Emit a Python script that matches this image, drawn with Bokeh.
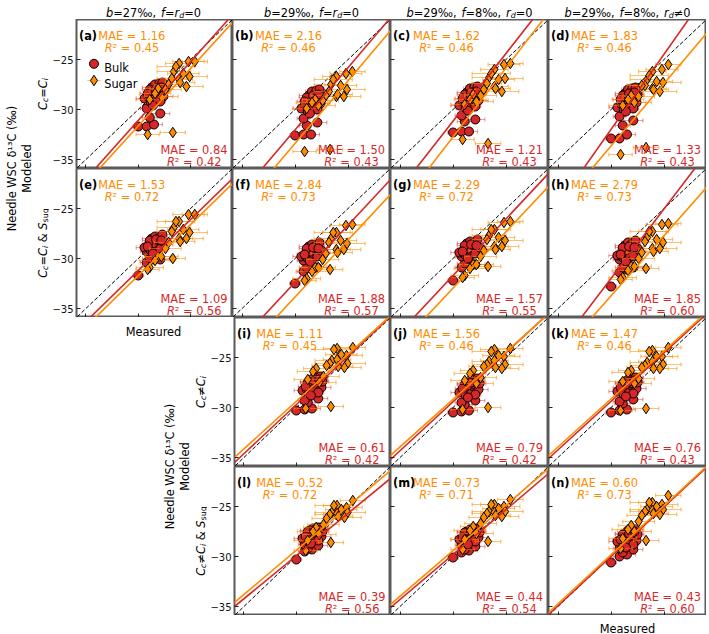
import numpy as np
from bokeh.plotting import figure
from bokeh.layouts import row, column
from bokeh.models import Range1d, FixedTicker, CustomJSTickFormatter, ColumnDataSource, CustomLabelingPolicy
from bokeh.core.properties import value
from bokeh.embed import file_html
from bokeh.resources import INLINE

# ---------------- data ----------------
panel_letters = ["a", "b", "c", "d", "e", "f", "g", "h", "i", "j", "k", "l", "m", "n"]
axis_ticks = [-35, -30, -25]

bulk_measured = [-30.0, -29.2, -28.5, -28.9, -29.2, -27.9, -29.4, -29.0, -28.8, -28.5, -28.3, -28.1, -28.7,
                 -28.4, -28.0, -27.7, -28.2, -27.6, -27.9, -28.6, -28.9, -27.5, -28.3, -29.1, -27.8, -28.6]
bulk_err = [0.5, 0.6, 0.8, 0.7, 0.6, 0.9, 0.8, 0.7, 0.9, 0.6, 0.8, 0.7, 0.9,
            0.6, 0.8, 0.7, 0.6, 0.9, 0.5, 0.8, 0.7, 0.6, 0.9, 0.7, 0.8, 0.6]
sugar_measured = [-26.1, -25.2, -24.6, -26.6, -26.4, -26.8, -25.7, -25.1, -26.1, -25.4,
                  -27.1, -28.1, -28.4, -28.9, -27.8, -29.1, -26.7, -27.4, -26.0]
sugar_err = [1.3, 1.5, 1.2, 1.6, 1.8, 1.4, 1.5, 1.7, 1.3, 1.6, 1.4, 1.2, 1.5, 1.3, 1.6, 1.1, 1.2, 1.5, 1.4]

bulk_a = [-31.7, -31.7, -31.5, -30.8, -29.9, -30.4, -28.9, -28.8, -29.3, -28.5, -29.0, -28.3, -27.8,
          -27.5, -27.4, -27.3, -28.0, -28.7, -29.2, -28.2, -28.0, -28.0, -27.9, -28.4, -27.8, -29.6]
bulk_b = [-32.6, -32.5, -32.5, -31.6, -30.9, -31.3, -29.9, -29.6, -30.2, -29.3, -29.8, -29.0, -28.6,
          -28.2, -28.1, -28.0, -28.7, -29.4, -30.0, -29.0, -28.8, -28.7, -28.6, -29.2, -28.5, -30.4]
bulk_c = [-32.3, -32.2, -32.2, -31.2, -30.6, -31.0, -29.6, -29.3, -29.9, -29.0, -29.5, -28.7, -28.3,
          -27.9, -27.8, -27.7, -28.4, -29.1, -29.7, -28.7, -28.5, -28.4, -28.3, -28.9, -28.2, -30.1]
bulk_d = [-32.9, -32.9, -32.5, -31.6, -30.7, -31.1, -29.8, -29.5, -30.0, -29.2, -29.7, -28.9, -28.4,
          -28.0, -27.9, -27.8, -28.6, -29.3, -29.9, -28.9, -28.6, -28.5, -28.4, -29.0, -28.3, -30.2]
bulk_e = [-31.7, -30.4, -30.1, -30.0, -29.3, -30.1, -28.9, -29.0, -29.2, -28.7, -29.1, -28.4, -28.0,
          -27.8, -27.9, -27.6, -28.3, -28.6, -29.0, -28.5, -28.2, -28.4, -28.1, -28.8, -28.2, -29.5]
bulk_f = [-32.5, -31.3, -31.0, -30.9, -30.2, -30.9, -29.8, -29.8, -30.0, -29.5, -29.9, -29.2, -28.8,
          -28.6, -28.7, -28.4, -29.1, -29.4, -29.8, -29.3, -29.0, -29.2, -28.9, -29.6, -29.0, -30.3]
bulk_g = [-32.2, -30.9, -30.6, -30.5, -29.8, -30.6, -29.4, -29.5, -29.7, -29.2, -29.6, -28.9, -28.5,
          -28.3, -28.4, -28.1, -28.8, -29.1, -29.5, -29.0, -28.7, -28.9, -28.6, -29.3, -28.7, -30.0]
bulk_h = [-32.8, -31.4, -31.1, -30.9, -30.1, -30.9, -29.7, -29.8, -30.0, -29.4, -29.9, -29.1, -28.7,
          -28.4, -28.5, -28.2, -29.0, -29.3, -29.8, -29.2, -28.9, -29.0, -28.8, -29.6, -28.9, -30.3]
bulk_i = [-30.3, -30.2, -30.1, -29.5, -29.3, -29.1, -28.3, -28.2, -28.6, -27.9, -28.4, -27.7, -27.4,
          -27.1, -27.0, -26.9, -27.5, -28.0, -28.5, -27.6, -27.5, -27.4, -27.3, -27.9, -27.2, -28.8]
bulk_j = [-30.5, -30.4, -30.3, -29.7, -29.5, -29.3, -28.5, -28.4, -28.8, -28.1, -28.6, -27.9, -27.6,
          -27.3, -27.2, -27.1, -27.7, -28.2, -28.7, -27.8, -27.7, -27.6, -27.5, -28.1, -27.4, -29.0]
bulk_k = [-30.5, -30.3, -30.2, -29.6, -29.4, -29.2, -28.4, -28.3, -28.7, -28.0, -28.5, -27.8, -27.5,
          -27.2, -27.1, -27.0, -27.6, -28.1, -28.6, -27.7, -27.6, -27.5, -27.4, -28.0, -27.3, -28.9]
bulk_l = [-30.3, -29.5, -29.3, -29.2, -28.8, -28.9, -28.2, -28.1, -28.5, -27.9, -28.3, -27.7, -27.4,
          -27.2, -27.1, -27.1, -27.6, -28.0, -28.4, -27.7, -27.5, -27.5, -27.4, -28.0, -27.3, -28.7]
bulk_m = [-30.1, -29.6, -29.4, -29.3, -28.9, -29.0, -28.3, -28.2, -28.6, -28.0, -28.4, -27.8, -27.5,
          -27.3, -27.2, -27.2, -27.7, -28.1, -28.5, -27.8, -27.6, -27.6, -27.5, -28.1, -27.4, -28.8]
bulk_n = [-30.6, -30.0, -29.8, -29.6, -29.2, -29.3, -28.5, -28.4, -28.8, -28.2, -28.7, -28.0, -27.7,
          -27.4, -27.3, -27.3, -27.9, -28.4, -28.8, -28.0, -27.8, -27.8, -27.7, -28.3, -27.5, -29.1]

sugar_a = [-25.4, -25.2, -25.2, -26.2, -25.7, -26.9, -26.4, -26.7, -27.0, -27.7, -27.5, -27.9, -28.4,
           -29.0, -28.7, -32.5, -32.3, -28.0, -27.3]
sugar_b = [-26.7, -26.4, -26.2, -27.5, -27.0, -28.2, -27.6, -28.0, -28.7, -28.7, -28.6, -29.0, -29.3,
           -29.9, -29.6, -34.2, -34.0, -29.1, -28.5]
sugar_c = [-26.0, -25.5, -25.4, -26.8, -26.4, -27.4, -27.0, -26.9, -27.7, -28.2, -28.0, -28.5, -29.0,
           -29.5, -29.2, -33.0, -33.4, -28.6, -27.9]
sugar_d = [-26.2, -26.0, -25.5, -27.0, -26.6, -27.6, -27.2, -27.3, -27.9, -28.2, -27.6, -28.6, -29.0,
           -29.6, -29.3, -34.5, -33.8, -28.7, -28.0]
sugar_e = [-26.3, -25.6, -25.6, -26.9, -26.3, -27.3, -27.1, -27.4, -28.0, -28.0, -28.4, -29.8, -30.2,
           -30.9, -29.8, -31.1, -30.0, -29.0, -28.3]
sugar_f = [-27.4, -26.7, -26.6, -28.0, -27.4, -28.4, -28.2, -28.5, -29.1, -29.1, -29.5, -30.9, -31.3,
           -32.0, -30.9, -32.2, -31.1, -30.1, -29.4]
sugar_g = [-27.1, -26.4, -26.3, -27.7, -27.1, -28.1, -27.9, -28.2, -28.8, -28.8, -29.2, -30.6, -31.0,
           -31.7, -30.6, -31.9, -30.8, -29.8, -29.1]
sugar_h = [-27.3, -26.6, -26.5, -27.9, -27.3, -28.3, -28.1, -28.4, -29.0, -29.0, -29.4, -30.8, -31.2,
           -31.9, -30.8, -32.1, -31.0, -30.0, -29.3]
sugar_i = [-24.1, -24.8, -24.0, -25.3, -24.2, -25.6, -24.7, -25.6, -25.2, -26.0, -25.8, -26.1, -26.4,
           -27.2, -27.5, -30.1, -29.9, -26.9, -25.9]
sugar_j = [-24.2, -24.9, -24.1, -25.4, -24.4, -25.7, -24.8, -25.7, -25.3, -26.1, -25.9, -26.3, -26.6,
           -27.3, -27.6, -30.2, -30.0, -27.0, -26.0]
sugar_k = [-24.3, -24.9, -24.0, -25.5, -24.4, -25.8, -24.9, -25.7, -25.4, -26.1, -26.0, -26.3, -26.5,
           -27.4, -27.6, -30.3, -30.1, -27.1, -26.1]
sugar_l = [-24.9, -25.1, -24.4, -25.6, -24.9, -25.8, -25.3, -25.6, -25.7, -26.1, -26.2, -27.1, -27.5,
           -28.4, -27.8, -29.4, -28.6, -26.8, -26.0]
sugar_m = [-24.8, -25.0, -24.3, -25.5, -24.8, -25.7, -25.2, -25.5, -25.6, -26.0, -26.1, -27.0, -27.4,
           -28.3, -27.7, -29.3, -28.5, -26.7, -25.9]
sugar_n = [-24.6, -24.8, -23.9, -25.3, -24.6, -25.5, -25.0, -25.3, -25.4, -25.8, -25.9, -26.9, -27.3,
           -28.2, -27.5, -29.2, -28.4, -26.5, -25.7]

# regression lines (slope, intercept)
fit_bulk_slope = [1.173, 1.246, 1.355, 1.505, 1.022, 1.140, 1.134, 1.393, 0.980, 0.980, 0.970, 0.859, 0.899, 0.987]
fit_bulk_icpt = [4.10, 5.34, 9.49, 13.16, -0.54, 1.83, 2.32, 9.79, -0.32, -0.02, -0.28, -4.16, -2.83, -0.37]
fit_sugar_slope = [1.150, 1.252, 1.380, 1.250, 1.023, 1.139, 1.129, 1.204, 0.952, 0.950, 0.960, 0.886, 0.913, 0.980]
fit_sugar_icpt = [2.86, 4.17, 8.67, 3.85, -1.02, 0.32, 0.91, 2.39, -0.82, -0.69, -0.34, -2.79, -2.02, -0.42]

mae_sugar = [1.16, 2.16, 1.62, 1.83, 1.53, 2.84, 2.29, 2.79, 1.11, 1.56, 1.47, 0.52, 0.73, 0.60]
r2_sugar = [0.45, 0.46, 0.46, 0.46, 0.72, 0.73, 0.72, 0.73, 0.45, 0.46, 0.46, 0.72, 0.71, 0.73]
mae_bulk = [0.84, 1.50, 1.21, 1.33, 1.09, 1.88, 1.57, 1.85, 0.61, 0.79, 0.76, 0.39, 0.44, 0.43]
r2_bulk = [0.42, 0.43, 0.43, 0.43, 0.56, 0.57, 0.55, 0.60, 0.42, 0.42, 0.43, 0.56, 0.54, 0.60]

IT, NO = "italic", "normal"
NB = "\u00a0"
col_titles = [
    [("b", IT, False), ("=27\u2030,", NO, False), (NB, NO, False), ("f", IT, False), ("=", NO, False), ("r", IT, False), ("d", IT, True), ("=0", NO, False)],
    [("b", IT, False), ("=29\u2030,", NO, False), (NB, NO, False), ("f", IT, False), ("=", NO, False), ("r", IT, False), ("d", IT, True), ("=0", NO, False)],
    [("b", IT, False), ("=29\u2030,", NO, False), (NB, NO, False), ("f", IT, False), ("=8\u2030,", NO, False), (NB, NO, False), ("r", IT, False), ("d", IT, True), ("=0", NO, False)],
    [("b", IT, False), ("=29\u2030,", NO, False), (NB, NO, False), ("f", IT, False), ("=8\u2030,", NO, False), (NB, NO, False), ("r", IT, False), ("d", IT, True), ("\u22600", NO, False)],
]
_eq = [("C", IT, False), ("c", IT, True), ("=", NO, False), ("C", IT, False), ("i", IT, True)]
_ne = [("C", IT, False), ("c", IT, True), ("\u2260", NO, False), ("C", IT, False), ("i", IT, True)]
_sug = [(NB, NO, False), ("&", NO, False), (NB, NO, False), ("S", IT, False), ("sug", NO, True)]
row_labels = [_eq, _eq + _sug, _ne, _ne + _sug]
big_label_1 = "Needle WSC \u03b4\u00b9\u00b3C (\u2030)"
big_label_2 = "Modeled"
x_label = "Measured"

# ---------------- style ----------------
FONT = "DejaVu Sans"
RED = "#d62728"
ORANGE = "#ff8c00"
BORDER = "#5a5a5a"
W, H = 158, 149          # panel frame size (px)
LB = 25                  # border for y tick labels
LEFT = 74                # left region before the first column
TOP = 19                 # title strip
BOT = 19                 # bottom strip
XMIN, XMAX = -35.9, -21.0
YMIN, YMAX = -35.9, -21.0
FS = 11.4

ADV = {' ': 0.318, NB: 0.318, ',': 0.318, '.': 0.318, '=': 0.838, '\u2260': 0.838, '\u2030': 1.45,
       '(': 0.390, ')': 0.390, '&': 0.780, 'b': 0.635, 'd': 0.635, 'f': 0.352, 'r': 0.411, 'C': 0.698,
       'c': 0.550, 'i': 0.278, 'S': 0.635, 's': 0.521, 'u': 0.634, 'g': 0.635, 'R': 0.695, '\u00b2': 0.401,
       'M': 0.863, 'A': 0.684, 'E': 0.632}
for _d in "0123456789":
    ADV[_d] = 0.636


def tw(s, fs):
    return sum(ADV.get(ch, 0.6) for ch in s) * fs


def txt(f, x, y, s, fs=FS, color="black", style="normal", align="left", baseline="alphabetic", angle=0.0):
    f.text(x=[x], y=[y], text=[s], angle=angle, text_font=value(FONT), text_font_size=f"{fs}px",
           text_font_style=value(style), text_color=color, text_align=align, text_baseline=baseline)


def pieces_width(pieces, fs=FS):
    return sum(tw(t, fs * 0.7 if sub else fs) for t, st, sub in pieces)


def draw_pieces(f, pieces, x0, y0, fs=FS, color="black", vertical=False):
    pos = 0.0
    for t, st, sub in pieces:
        s = fs * 0.7 if sub else fs
        drop = 0.22 * fs if sub else 0.0
        if t != NB:
            if vertical:
                txt(f, x0 + drop, y0 + pos, t, s, color, st, angle=np.pi / 2)
            else:
                txt(f, x0 + pos, y0 - drop, t, s, color, st)
        pos += tw(t, s)


def text_fig(w, h):
    f = figure(width=w, height=h, x_range=Range1d(0, w), y_range=Range1d(0, h), output_backend="svg",
               toolbar_location=None, min_border=0, x_axis_location=None, y_axis_location=None)
    f.outline_line_color = None
    f.grid.visible = False
    f.background_fill_color = "white"
    f.border_fill_color = "white"
    return f


bulk_models = [bulk_a, bulk_b, bulk_c, bulk_d, bulk_e, bulk_f, bulk_g, bulk_h, bulk_i, bulk_j, bulk_k, bulk_l, bulk_m, bulk_n]
sugar_models = [sugar_a, sugar_b, sugar_c, sugar_d, sugar_e, sugar_f, sugar_g, sugar_h, sugar_i, sugar_j, sugar_k, sugar_l, sugar_m, sugar_n]


def hide_labels(ax):
    ax.major_label_text_font_size = "0px"
    ax.major_label_standoff = 0
    ax.major_label_policy = CustomLabelingPolicy(code="return []")


def make_panel(k, ylabels):
    lb = LB if ylabels else 0
    p = figure(width=W + lb, height=H, x_range=Range1d(XMIN, XMAX), y_range=Range1d(YMIN, YMAX),
               output_backend="svg", toolbar_location=None,
               min_border_left=lb, min_border_right=0, min_border_top=0, min_border_bottom=0)
    p.grid.visible = False
    p.outline_line_color = BORDER
    p.outline_line_width = 2
    p.background_fill_color = "white"
    p.border_fill_color = "white"
    for ax in (p.xaxis[0], p.yaxis[0]):
        ax.ticker = FixedTicker(ticks=axis_ticks, minor_ticks=[])
        ax.major_tick_in = 4
        ax.major_tick_out = 0
        ax.minor_tick_in = 0
        ax.minor_tick_out = 0
        ax.axis_line_color = None
        ax.major_tick_line_color = "#222222"
        ax.major_label_text_font = FONT
    hide_labels(p.xaxis[0])
    if ylabels:
        p.yaxis.formatter = CustomJSTickFormatter(code="return (tick < 0 ? '\u2212' : '') + Math.abs(tick).toFixed(0);")
        p.yaxis.major_label_text_font_size = "10px"
        p.yaxis.major_label_standoff = 3
        p.yaxis.major_label_text_color = "#111111"
    else:
        hide_labels(p.yaxis[0])

    xs = [XMIN - 2, XMAX + 2]
    p.line(xs, xs, line_color="black", line_dash="4 2", line_width=1)

    bsrc = ColumnDataSource(dict(x=bulk_measured, y=bulk_models[k],
                                 lo=[a - e for a, e in zip(bulk_measured, bulk_err)],
                                 hi=[a + e for a, e in zip(bulk_measured, bulk_err)]))
    ssrc = ColumnDataSource(dict(x=sugar_measured, y=sugar_models[k],
                                 lo=[a - e for a, e in zip(sugar_measured, sugar_err)],
                                 hi=[a + e for a, e in zip(sugar_measured, sugar_err)]))
    for src, col, alpha, mk, size in ((bsrc, RED, 0.45, "circle", 9), (ssrc, ORANGE, 0.55, "diamond", 10.5)):
        p.segment(x0="lo", y0="y", x1="hi", y1="y", source=src, line_color=col, line_alpha=alpha, line_width=1.2)
        for end in ("lo", "hi"):
            p.scatter(x=end, y="y", source=src, marker="dash", angle=np.pi / 2, size=4,
                      line_color=col, line_alpha=alpha, line_width=1.2)
        p.scatter(x="x", y="y", source=src, marker=mk, size=size, fill_color=col, line_color="black", line_width=1)

    p.line(xs, [fit_bulk_slope[k] * x + fit_bulk_icpt[k] for x in xs], line_color=RED, line_width=1.6)
    p.line(xs, [fit_sugar_slope[k] * x + fit_sugar_icpt[k] for x in xs], line_color=ORANGE, line_width=1.6)

    ux = (XMAX - XMIN) / W
    uy = (YMAX - YMIN) / H

    def fx(px):
        return XMIN + px * ux

    def fy(py):
        return YMAX - py * uy

    txt(p, fx(2.5), fy(16), f"({panel_letters[k]})", FS, "black", "bold")

    def block(cx, y1, y2, mae, r2, color):
        txt(p, fx(cx), fy(y1), f"MAE = {mae:.2f}", FS, color, align="center")
        rest = f"\u00b2 = {r2:.2f}"
        total = tw("R", FS) + tw(rest, FS)
        anchor = cx - total / 2 + tw("R", FS)
        txt(p, fx(anchor), fy(y2), "R", FS, color, "italic", align="right")
        txt(p, fx(anchor), fy(y2), rest, FS, color, align="left")

    block(56, 16, 28.7, mae_sugar[k], r2_sugar[k], ORANGE)
    block(119, H - 19, H - 6.5, mae_bulk[k], r2_bulk[k], RED)

    if k == 0:
        p.scatter([fx(17.7)], [fy(44.3)], marker="circle", size=9, fill_color=RED, line_color="black", line_width=1)
        p.segment([fx(11)], [fy(61)], [fx(24.5)], [fy(61)], line_color=ORANGE, line_alpha=0.55, line_width=1.2)
        p.scatter([fx(17.7)], [fy(61)], marker="diamond", size=10.5, fill_color=ORANGE, line_color="black", line_width=1)
        txt(p, fx(28), fy(48), "Bulk")
        txt(p, fx(28), fy(64.7), "Sugar")
    return p


panels = {}
for k, letter in enumerate(panel_letters):
    panels[letter] = make_panel(k, letter in ("a", "e", "i", "l"))

TOTAL_W = LEFT + 4 * W

# title strip
title_fig = text_fig(TOTAL_W, TOP)
for c in range(4):
    cx = LEFT + W * c + W / 2
    wdt = pieces_width(col_titles[c])
    draw_pieces(title_fig, col_titles[c], cx - wdt / 2, 7)

# left labels for rows 1-2
L1 = text_fig(LEFT - LB, 2 * H)
txt(L1, 11, H, big_label_1, FS, align="center", baseline="middle", angle=np.pi / 2)
txt(L1, 26.5, H, big_label_2, FS, align="center", baseline="middle", angle=np.pi / 2)
for r in range(2):
    cy = 2 * H - (r + 0.5) * H
    wdt = pieces_width(row_labels[r])
    draw_pieces(L1, row_labels[r], 38 + 0.36 * FS, cy - wdt / 2, vertical=True)

# left block for rows 3-4 (holds the x label of panel (e) too)
L2 = text_fig(LEFT + W - LB, 2 * H)
txt(L2, LEFT + W / 2, 2 * H - 14, x_label, FS, align="center")
fl = LEFT + W  # frame left of panel (i) in L2 coordinates
txt(L2, fl - 63, H, big_label_1, FS, align="center", baseline="middle", angle=np.pi / 2)
txt(L2, fl - 47.5, H, big_label_2, FS, align="center", baseline="middle", angle=np.pi / 2)
for r in range(2):
    cy = 2 * H - (r + 0.5) * H
    wdt = pieces_width(row_labels[r + 2])
    draw_pieces(L2, row_labels[r + 2], fl - 36 + 0.36 * FS, cy - wdt / 2, vertical=True)

# bottom strip
bottom_fig = text_fig(TOTAL_W, BOT)
txt(bottom_fig, LEFT + 3 * W + W / 2, 6, x_label, FS, align="center")

P = panels
layout = column(
    title_fig,
    row(L1, column(row(P["a"], P["b"], P["c"], P["d"]), row(P["e"], P["f"], P["g"], P["h"]))),
    row(L2, column(row(P["i"], P["j"], P["k"]), row(P["l"], P["m"], P["n"]))),
    bottom_fig,
)

with open("out.html", "w", encoding="utf-8") as fh:
    fh.write(file_html(layout, INLINE, "Needle WSC d13C"))
